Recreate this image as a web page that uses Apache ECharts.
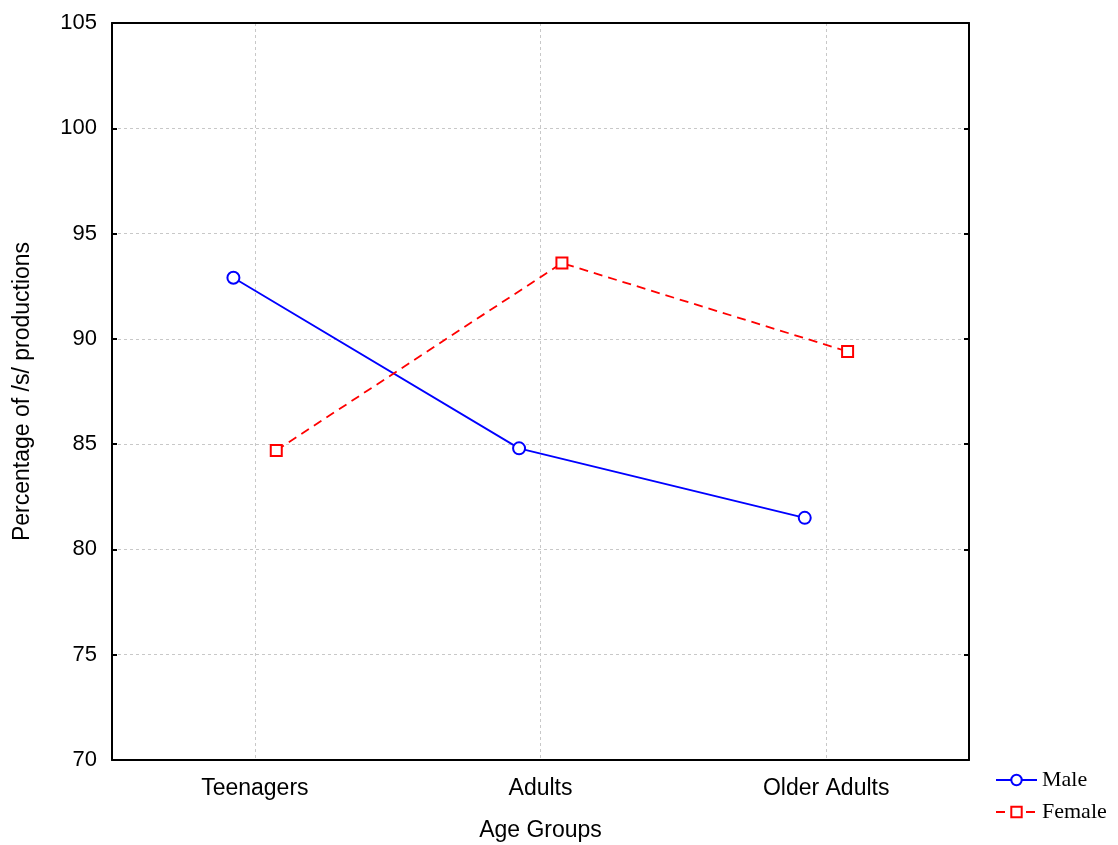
<!DOCTYPE html>
<html>
<head>
<meta charset="utf-8">
<script src="https://cdn.jsdelivr.net/npm/echarts@6/dist/echarts.min.js"></script>
<style>
  html, body { margin: 0; padding: 0; background: #fff; }
  #chart { width: 1118px; height: 845px; }
</style>
</head>
<body>
<div id="chart"></div>
<script>
  // data
  const categories = ['Teenagers', 'Adults', 'Older Adults'];
  const maleValues = [92.9, 84.8, 81.5];
  const femaleValues = [84.7, 93.6, 89.4];
  const yTicks = [70, 75, 80, 85, 90, 95, 100, 105];

  const DODGE = 0.075; // horizontal offset of the two groups around a category

  const chart = echarts.init(document.getElementById('chart'));

  const sans = 'Liberation Sans, Arial, sans-serif';
  const serif = 'Liberation Serif, Times New Roman, serif';

  const toPoints = (vals, shift) => vals.map((v, i) => [i + shift, v]);

  const gridLine = { color: '#c8c8c8', type: [3, 3], width: 1 };

  const option = {
    animation: false,
    grid: { left: 112, right: 149, top: 23, bottom: 85, containLabel: false, outerBoundsMode: 'none' },
    legend: {
      orient: 'vertical',
      left: 990,
      top: 764,
      itemWidth: 41,
      itemHeight: 13,
      itemGap: 10,
      textStyle: { fontFamily: serif, fontSize: 22, color: '#000' },
      data: ['Male', 'Female'],
    },
    xAxis: [
      {
        type: 'category',
        data: categories,
        boundaryGap: true,
        name: 'Age Groups',
        nameLocation: 'middle',
        nameGap: 59,
        nameTextStyle: { fontFamily: sans, fontSize: 23, color: '#000' },
        axisLine: { onZero: false, lineStyle: { color: '#000', width: 2 } },
        axisTick: { inside: true, length: 5, alignWithLabel: true, lineStyle: { color: '#000', width: 2 } },
        axisLabel: { margin: 17, fontFamily: sans, fontSize: 23, color: '#000' },
        splitLine: { show: true, interval: 0, alignWithLabel: true, lineStyle: gridLine },
      },
      {
        type: 'category',
        data: categories,
        position: 'top',
        boundaryGap: true,
        axisLine: { onZero: false, lineStyle: { color: '#000', width: 2 } },
        axisTick: { inside: true, length: 5, alignWithLabel: true, lineStyle: { color: '#000', width: 2 } },
        axisLabel: { show: false },
        splitLine: { show: false },
      },
      {
        // hidden value axis used to place the dodged points
        type: 'value',
        min: -0.5,
        max: 2.5,
        show: false,
      },
    ],
    yAxis: [
      {
        type: 'value',
        min: 70,
        max: 105,
        interval: 5,
        name: 'Percentage of /s/ productions',
        nameLocation: 'middle',
        nameGap: 78,
        nameTextStyle: { fontFamily: sans, fontSize: 23, color: '#000' },
        axisLine: { show: true, onZero: false, lineStyle: { color: '#000', width: 2 } },
        axisTick: { show: true, inside: true, length: 5, lineStyle: { color: '#000', width: 2 } },
        axisLabel: {
          margin: 15,
          fontFamily: sans,
          fontSize: 22,
          color: '#000',
          formatter: (v) => (yTicks.includes(v) ? String(v) : ''),
        },
        splitLine: { show: true, lineStyle: gridLine },
      },
      {
        type: 'value',
        min: 70,
        max: 105,
        interval: 5,
        position: 'right',
        axisLine: { show: true, onZero: false, lineStyle: { color: '#000', width: 2 } },
        axisTick: { show: true, inside: true, length: 5, lineStyle: { color: '#000', width: 2 } },
        axisLabel: { show: false },
        splitLine: { show: false },
      },
    ],
    series: [
      {
        name: 'Male',
        type: 'line',
        xAxisIndex: 2,
        data: toPoints(maleValues, -DODGE),
        symbol: 'emptyCircle',
        symbolSize: 12,
        color: '#0000ff',
        itemStyle: { color: '#0000ff', borderWidth: 1.8 },
        lineStyle: { color: '#0000ff', width: 1.8 },
      },
      {
        name: 'Female',
        type: 'line',
        xAxisIndex: 2,
        data: toPoints(femaleValues, DODGE),
        symbol: 'emptyRect',
        symbolSize: 11,
        color: '#ff0000',
        itemStyle: { color: '#ff0000', borderWidth: 1.8 },
        lineStyle: { color: '#ff0000', width: 1.8, type: [9, 6] },
      },
    ],
  };

  chart.setOption(option);

  window.addEventListener('resize', () => chart.resize());
</script>
</body>
</html>
